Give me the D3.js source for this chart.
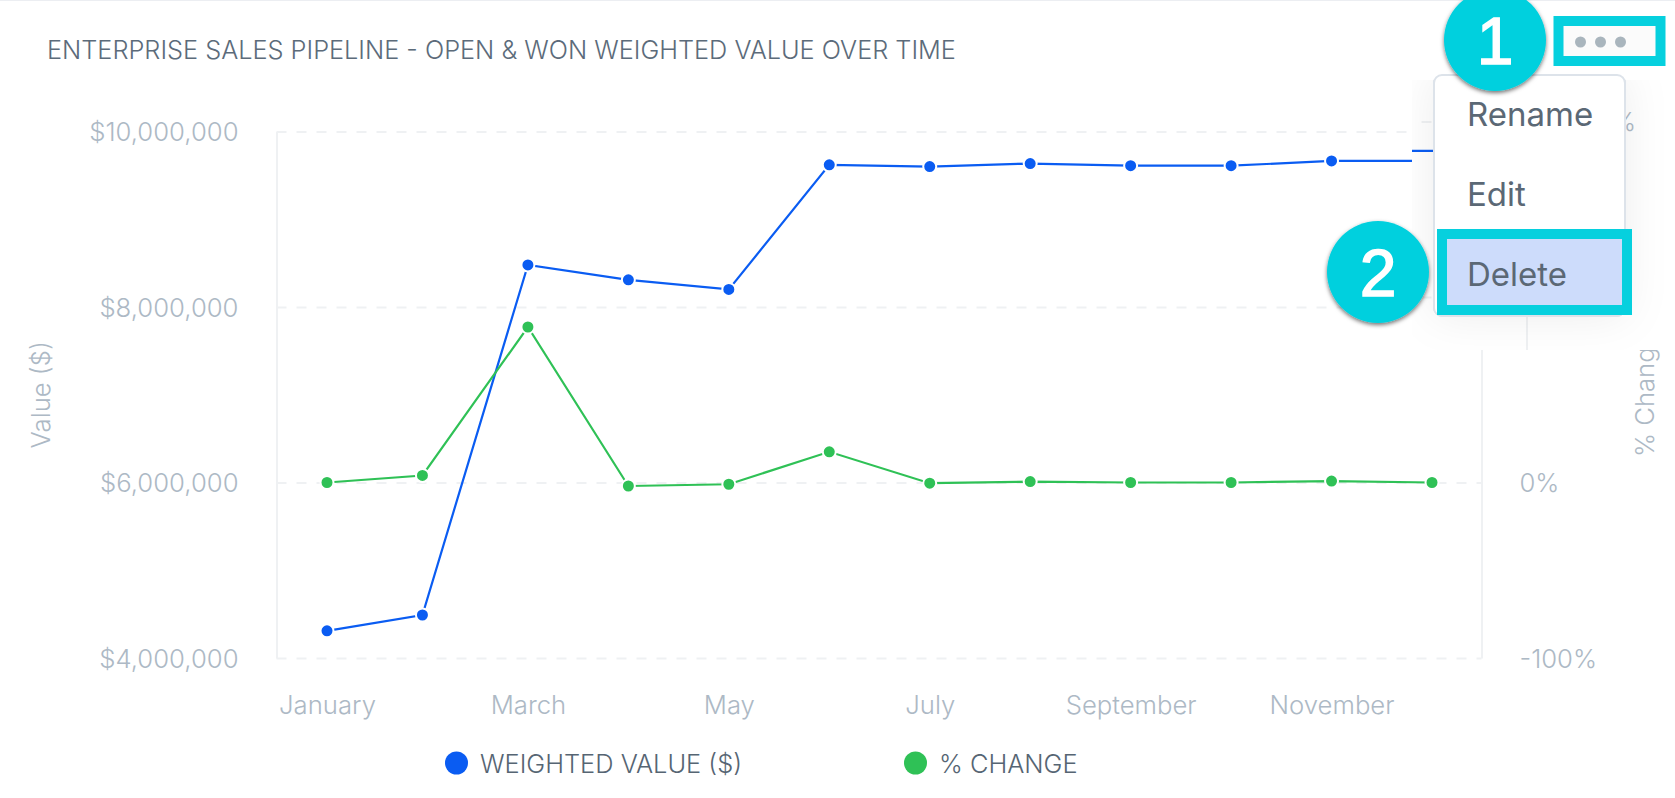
<!DOCTYPE html>
<html>
<head>
<meta charset="utf-8">
<script src="https://cdn.jsdelivr.net/npm/d3@7"></script>
<style>
  html, body { margin: 0; padding: 0; background: #fff; overflow: hidden; }
  svg { display: block; font-family: Inter, sans-serif; }
  .tick-label { fill: #adb9c5; font-size: 25.7px; font-weight: 300; }
  .menu-item { fill: #5b6875; font-size: 33px; }
</style>
</head>
<body>
<svg id="chart" width="1675" height="798"></svg>
<script>
const months = ["January", "February", "March", "April", "May", "June", "July", "August", "September", "October", "November", "December"];
// February's point sits a bit left of the even spacing in the picture
const monthPositions = [0, 0.95, 2, 3, 4, 5, 6, 7, 8, 9, 10, 11];
const monthLabelPositions = [0, 2, 4, 6, 8, 10];
const weightedValue = [4310000, 4490000, 8480000, 8310000, 8200000, 9620000, 9600000, 9635000, 9610000, 9610000, 9665000, 9665000];
const pctChange = [0, 4, 88.6, -2, -1, 17.5, -0.4, 0.5, 0, 0, 0.8, 0];
const valueTicks = [4000000, 6000000, 8000000, 10000000];
const pctTicks = [-100, 0, 100, 200];
const menuItems = ["Rename", "Edit", "Delete"];
const legendItems = ["WEIGHTED VALUE ($)", "% CHANGE"];

const BLUE = "#0a5cf2";
const GREEN = "#2fc156";
const CYAN = "#06d0de";
const GRID = "#eff1f3";

const svg = d3.select("#chart");

const plotLeft = 276.5, plotRight = 1481.5, plotTop = 131.5, plotBottom = 658;

const x = d3.scaleLinear().domain([0, 11]).range([plotLeft + 50.5, plotRight - 49.5]);
const yValue = d3.scaleLinear().domain([4000000, 10000000]).range([plotBottom, plotTop]);
const yPct = d3.scaleLinear().domain([-100, 200]).range([plotBottom, plotTop]);

const defs = svg.append("defs");
const shadow = defs.append("filter").attr("id", "badge-shadow")
  .attr("x", "-20%").attr("y", "-20%").attr("width", "140%").attr("height", "140%");
shadow.append("feDropShadow").attr("dx", 0).attr("dy", 2).attr("stdDeviation", 2)
  .attr("flood-color", "#000").attr("flood-opacity", 0.55);
const menuShadow = defs.append("filter").attr("id", "menu-shadow")
  .attr("x", "-30%").attr("y", "-30%").attr("width", "160%").attr("height", "160%");
menuShadow.append("feDropShadow").attr("dx", 0).attr("dy", 0).attr("stdDeviation", 22)
  .attr("flood-color", "#000").attr("flood-opacity", 0.07);
defs.append("clipPath").attr("id", "patch-clip")
  .append("rect").attr("x", 1412).attr("y", 80).attr("width", 263).attr("height", 270);

function drawSeries(g, values, scale, color) {
  const line = d3.line().x((d, i) => x(monthPositions[i])).y((d) => scale(d));
  g.append("path")
    .datum(values)
    .attr("fill", "none")
    .attr("stroke", color)
    .attr("stroke-width", 2.2)
    .attr("d", line);
  g.selectAll(null)
    .data(values)
    .enter()
    .append("circle")
    .attr("cx", (d, i) => x(monthPositions[i]))
    .attr("cy", (d) => scale(d))
    .attr("r", 6.5)
    .attr("fill", color)
    .attr("stroke", "#fff")
    .attr("stroke-width", 2);
}

function drawChart(g) {
  // gridlines + left axis
  const axisL = g.append("g")
    .attr("transform", `translate(${plotLeft},0)`)
    .call(d3.axisLeft(yValue).tickValues(valueTicks).tickSize(0).tickPadding(38)
      .tickFormat((d) => "$" + d3.format(",")(d)));
  axisL.select(".domain").attr("stroke", GRID).attr("stroke-width", 2);
  axisL.selectAll("text").attr("class", "tick-label").attr("dy", "0.36em");
  axisL.attr("font-family", null).attr("font-size", null);
  axisL.selectAll(".tick").append("line")
    .attr("x2", plotRight - plotLeft)
    .attr("stroke", GRID)
    .attr("stroke-width", 2)
    .attr("stroke-dasharray", "10,10");

  const axisR = g.append("g")
    .attr("transform", `translate(${plotRight},0)`)
    .call(d3.axisRight(yPct).tickValues(pctTicks).tickSize(0).tickPadding(38)
      .tickFormat((d) => d + "%"));
  axisR.select(".domain").attr("stroke", GRID).attr("stroke-width", 2);
  axisR.selectAll("text").attr("class", "tick-label").attr("dy", "0.36em");
  axisR.attr("font-family", null).attr("font-size", null);

  const axisB = g.append("g")
    .attr("transform", `translate(0,${plotBottom})`)
    .call(d3.axisBottom(x).tickSize(0).tickPadding(48)
      .tickValues(monthLabelPositions)
      .tickFormat((d) => months[d]));
  axisB.select(".domain").remove();
  axisB.selectAll("text").attr("class", "tick-label").attr("dy", "0.32em");
  axisB.attr("font-family", null).attr("font-size", null);

  g.append("text")
    .attr("class", "tick-label")
    .attr("transform", `translate(42,${(plotTop + plotBottom) / 2}) rotate(-90)`)
    .attr("text-anchor", "middle")
    .attr("dy", "0.32em")
    .text("Value ($)");
  g.append("text")
    .attr("class", "tick-label")
    .attr("transform", `translate(1646,${(plotTop + plotBottom) / 2}) rotate(-90)`)
    .attr("text-anchor", "middle")
    .attr("dy", "0.32em")
    .text("% Change");

  drawSeries(g, weightedValue, yValue, BLUE);
  drawSeries(g, pctChange, yPct, GREEN);
}

// top edge of the card
svg.append("rect").attr("width", 1675).attr("height", 1).attr("fill", "#eceef2");

svg.append("text")
  .attr("x", 47).attr("y", 59)
  .attr("fill", "#5c6b7a")
  .attr("font-size", 25.3)
  .attr("font-weight", 300)
  .text("ENTERPRISE SALES PIPELINE - OPEN & WON WEIGHTED VALUE OVER TIME");

drawChart(svg.append("g"));

// legend
const legendDotX = [456.5, 915.5];
const legendTextX = [480, 939];
const legend = svg.append("g").selectAll("g").data(legendItems).enter().append("g");
legend.append("circle")
  .attr("cx", (d, i) => legendDotX[i]).attr("cy", 763).attr("r", 11.5)
  .attr("fill", (d, i) => (i === 0 ? BLUE : GREEN));
legend.append("text")
  .attr("x", (d, i) => legendTextX[i]).attr("y", 764).attr("dy", "0.35em")
  .attr("fill", "#566573").attr("font-size", 25.4).attr("font-weight", 300)
  .text((d) => d);

// the pasted screenshot of the menu: chart is offset inside it
const patch = svg.append("g").attr("clip-path", "url(#patch-clip)");
patch.append("rect").attr("x", 1412).attr("y", 80).attr("width", 263).attr("height", 270).attr("fill", "#fff");
drawChart(patch.append("g").attr("transform", "translate(45,-10)"));

patch.append("rect")
  .attr("x", 1434).attr("y", 75).attr("width", 191).attr("height", 241).attr("rx", 8)
  .attr("fill", "#fff").attr("stroke", "#dde3ea").attr("stroke-width", 2)
  .attr("filter", "url(#menu-shadow)");

svg.append("rect")
  .attr("x", 1434).attr("y", 75).attr("width", 191).attr("height", 241).attr("rx", 8)
  .attr("fill", "#fff").attr("stroke", "#dde3ea").attr("stroke-width", 2);

svg.append("rect")
  .attr("x", 1442).attr("y", 234).attr("width", 185).attr("height", 76)
  .attr("fill", "#cddcfb").attr("stroke", CYAN).attr("stroke-width", 10);

svg.selectAll(".menu-item").data(menuItems).enter().append("text")
  .attr("class", "menu-item")
  .attr("x", 1467)
  .attr("y", (d, i) => 126 + i * 80)
  .text((d) => d);

// the dots button
svg.append("rect")
  .attr("x", 1558.5).attr("y", 21).attr("width", 102).attr("height", 40)
  .attr("fill", "#fbfbfb").attr("stroke", CYAN).attr("stroke-width", 10);
svg.selectAll(".dot").data([0, 1, 2]).enter().append("circle")
  .attr("class", "dot")
  .attr("cx", (d) => 1580.5 + d * 20).attr("cy", 42).attr("r", 5.5)
  .attr("fill", "#a9b5bd");

// numbered badges
const badges = svg.selectAll(".badge").data([["1", 1495, 40], ["2", 1378, 272]]).enter().append("g");
badges.append("circle")
  .attr("cx", (d) => d[1]).attr("cy", (d) => d[2]).attr("r", 51)
  .attr("fill", CYAN).attr("filter", "url(#badge-shadow)");
badges.append("text")
  .attr("x", (d) => d[1]).attr("y", (d) => d[2] + 24)
  .attr("text-anchor", "middle")
  .attr("fill", "#fff")
  .attr("stroke", "#fff")
  .attr("stroke-width", 1.5)
  .attr("font-family", "'Liberation Sans', sans-serif")
  .attr("font-size", 66)
  .text((d) => d[0]);
</script>
</body>
</html>
